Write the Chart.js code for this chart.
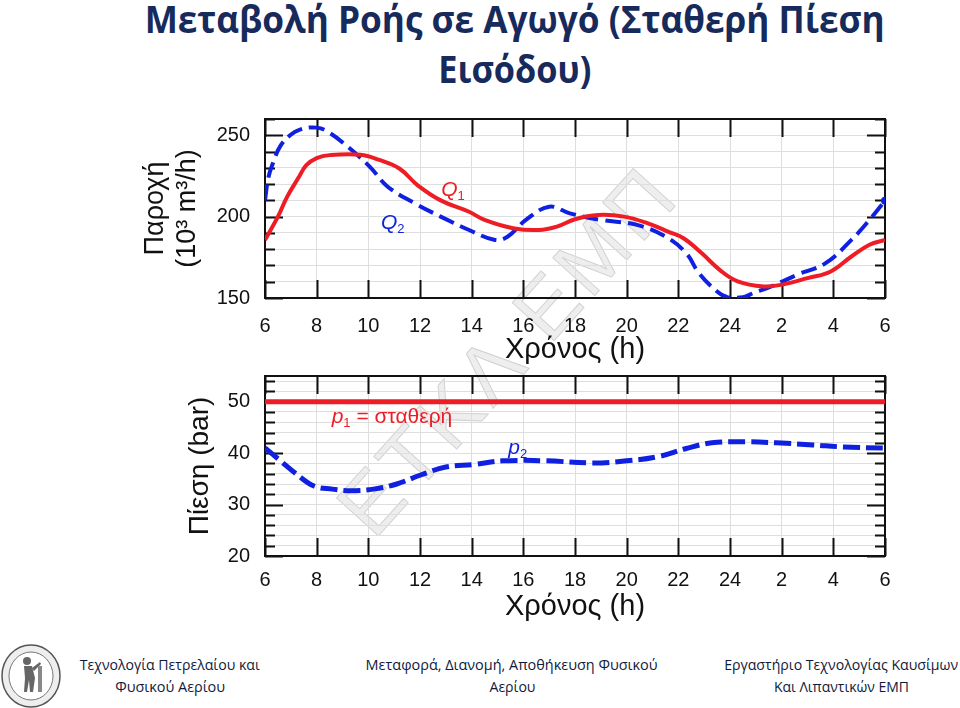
<!DOCTYPE html>
<html lang="el">

<head>
    <meta charset="UTF-8">
    <title>Μεταβολή Ροής σε Αγωγό</title>
    <script src="https://cdn.jsdelivr.net/npm/chart.js@4.4.1/dist/chart.umd.min.js"></script>
    <style>
        html, body { margin: 0; padding: 0; background: #fff; }
        body { width: 960px; height: 708px; position: relative; overflow: hidden; }

        .title {
            position: absolute; left: 100px; top: -7px; width: 830px;
            text-align: center; font-family: "Open Sans", sans-serif; font-weight: 700;
            font-size: 38px; line-height: 50px; color: #172a5c;
        }
        .fit { display: inline-block; white-space: nowrap; transform-origin: center; }

        .watermark {
            position: absolute; left: 508px; top: 350px; z-index: 0;
            transform: translate(-50%, -50%) rotate(-48deg);
            font-family: "Liberation Sans", Arial, sans-serif; font-size: 82px; letter-spacing: 6px;
            color: #eeeeee; -webkit-text-stroke: 1px #d2d2d2; white-space: nowrap;
        }

        .chart-box { position: absolute; left: 0; width: 960px; z-index: 1; }
        #box-flow { top: 100px; height: 270px; }
        #box-pressure { top: 370px; height: 270px; }

        .logo { position: absolute; left: 0; top: 644px; }
        .foot {
            position: absolute; top: 653px; text-align: center;
            font-family: "Open Sans", sans-serif; font-size: 15px; line-height: 22px; color: #101a3c;
        }
    </style>
</head>

<body>
    <div class="title">
        <span class="fit" data-w="740">Μεταβολή Ροής σε Αγωγό (Σταθερή Πίεση</span><br>
        <span class="fit" data-w="153">Εισόδου)</span>
    </div>

    <div class="watermark">ΕΤΚΛ ΕΜΠ</div>

    <div class="chart-box" id="box-flow"><canvas id="chart-flow"></canvas></div>
    <div class="chart-box" id="box-pressure"><canvas id="chart-pressure"></canvas></div>

    <svg class="logo" width="62" height="64" viewBox="0 0 62 64">
        <ellipse cx="31" cy="32" rx="29" ry="31" fill="#eeeeee" stroke="#555" stroke-width="1.5" />
        <ellipse cx="31" cy="32" rx="22" ry="24" fill="#fff" stroke="#777" stroke-width="1" />
        <circle cx="27" cy="17" r="4" fill="#666" />
        <path d="M24 22 L32 22 L35 34 L33 48 L30 48 L29 36 L27 48 L24 48 L25 34 Z" fill="#666" />
        <path d="M32 24 L40 18 L41 20 L34 27 Z" fill="#666" />
        <rect x="38" y="22" width="4" height="26" fill="#888" />
    </svg>
    <div class="foot" style="left: 40px; width: 260px;">
        <span class="fit" data-w="180">Τεχνολογία Πετρελαίου και</span><br>
        <span class="fit" data-w="110">Φυσικού Αερίου</span>
    </div>
    <div class="foot" style="left: 342px; width: 340px;">
        <span class="fit" data-w="292">Μεταφορά, Διανομή, Αποθήκευση Φυσικού</span><br>
        <span class="fit" data-w="46">Αερίου</span>
    </div>
    <div class="foot" style="left: 711px; width: 260px;">
        <span class="fit" data-w="234">Εργαστήριο Τεχνολογίας Καυσίμων</span><br>
        <span class="fit" data-w="135">Και Λιπαντικών ΕΜΠ</span>
    </div>

    <script>
        // x axis: hours from 6 in the morning to 6 the next morning
        const hourTicks = [6, 8, 10, 12, 14, 16, 18, 20, 22, 24, 26, 28, 30];
        const hourLabels = ['6', '8', '10', '12', '14', '16', '18', '20', '22', '24', '2', '4', '6'];

        // flow chart (10^3 m3/h)
        const flowLabelled = [150, 200, 250];
        const q1Hours = [6, 6.5, 6.85, 7.3, 7.6, 8, 8.5, 9.7, 10.4, 11.2, 11.9, 12.8, 13.9, 14.5, 15.6, 16.6, 17.3, 18,
            18.9, 19.9, 20.8, 21.6, 22.2, 22.9, 23.6, 24.3, 25.3, 26, 27, 27.9, 28.7, 29.4, 30];
        const q1Flow = [185.7, 200, 212, 224, 231.6, 236, 237.8, 238, 235, 229.6, 219.4, 210, 203, 198, 192.9, 191.8, 193.9, 198.4,
            201, 200, 196, 190.8, 186.7, 177.6, 167.3, 160.2, 157.1, 158.2, 162.2, 166.3, 175.5, 182.7, 185.7];
        const q2Hours = [6, 6.13, 6.31, 6.58, 6.97, 7.35, 8, 8.5, 9.2, 10.06, 10.75, 11.8, 12.8, 13.9, 14.9, 15.4, 16.1, 17,
            17.8, 19, 20.4, 21.5, 22.3, 22.8, 23.5, 23.9, 24.5, 24.9, 25.6, 26.6, 27.7, 28.7, 29.4, 30];
        const q2Flow = [210, 224, 233, 243, 250, 253.5, 254.7, 251.5, 243, 230.6, 218.4, 208.2, 200, 191.8, 185.7, 187.8, 198, 206.1,
            202, 198, 194.9, 187.8, 177.6, 165.3, 154, 150.5, 150.5, 153, 157.1, 164.3, 171.4, 185.7, 198, 209.8];

        // pressure chart (bar)
        const pressureLabelled = [20, 30, 40, 50];
        const p1Hours = [6, 30];
        const p1Pressure = [50, 50];
        const p2Hours = [6, 6.6, 7.2, 7.9, 8.6, 9.3, 10.2, 11.1, 12, 13, 14.1, 15.2, 16.9, 18.7, 20, 21.2, 22.3, 23.3,
            24.6, 25.8, 27.2, 28.4, 30];
        const p2Pressure = [41, 38.5, 36, 33.6, 33, 32.7, 33, 34, 35.7, 37.3, 37.8, 38.5, 38.5, 38.1, 38.5, 39.3, 40.9, 42,
            42.2, 42, 41.6, 41.2, 41];

        const red = '#ee1c24';
        const blue = '#1020e0';
        const fontFamily = '"Liberation Sans", Arial, sans-serif';

        // curve names, placed in data units
        const flowNames = [
            { symbol: 'Q', sub: '1', rest: '', hour: 12.82, value: 216, color: red },
            { symbol: 'Q', sub: '2', rest: '', hour: 10.49, value: 196, color: blue }
        ];
        const pressureNames = [
            { symbol: 'p', sub: '1', rest: ' = σταθερή', hour: 8.58, value: 47, color: red },
            { symbol: 'p', sub: '2', rest: '', hour: 15.42, value: 40.9, color: blue }
        ];

        function toPoints(xs, ys) {
            return xs.map((x, i) => ({ x: x, y: ys[i] }));
        }

        function range(from, to, step) {
            const out = [];
            for (let v = from; v <= to; v += step) out.push(v);
            return out;
        }

        // black frame with inward tick marks on all four sides
        const framePlugin = {
            id: 'frame',
            beforeDatasetsDraw(chart, args, opts) {
                const { ctx, chartArea: a, scales: { x, y } } = chart;
                ctx.save();
                ctx.strokeStyle = '#111';
                ctx.lineWidth = 2;
                ctx.beginPath();
                x.ticks.forEach(t => {
                    const px = Math.round(x.getPixelForValue(t.value)) + 0.5;
                    ctx.moveTo(px, a.bottom); ctx.lineTo(px, a.bottom - 18);
                    ctx.moveTo(px, a.top); ctx.lineTo(px, a.top + 18);
                });
                y.ticks.forEach(t => {
                    const py = Math.round(y.getPixelForValue(t.value)) + 0.5;
                    const len = opts.major.includes(t.value) ? 18 : 10;
                    ctx.moveTo(a.left, py); ctx.lineTo(a.left + len, py);
                    ctx.moveTo(a.right, py); ctx.lineTo(a.right - len, py);
                });
                ctx.stroke();
                ctx.strokeRect(a.left, a.top, a.width, a.height);
                ctx.restore();
            }
        };

        // Q1, Q2, p1, p2 names with subscripts
        const namesPlugin = {
            id: 'names',
            afterDatasetsDraw(chart, args, opts) {
                const { ctx, scales: { x, y } } = chart;
                ctx.save();
                ctx.textBaseline = 'middle';
                ctx.textAlign = 'left';
                opts.items.forEach(item => {
                    let px = x.getPixelForValue(item.hour);
                    const py = y.getPixelForValue(item.value);
                    ctx.fillStyle = item.color;
                    ctx.font = 'italic 21px ' + fontFamily;
                    ctx.fillText(item.symbol, px, py);
                    px += ctx.measureText(item.symbol).width;
                    ctx.font = '13px ' + fontFamily;
                    ctx.fillText(item.sub, px, py + 6);
                    px += ctx.measureText(item.sub).width;
                    if (item.rest) {
                        ctx.font = '21px ' + fontFamily;
                        ctx.fillText(item.rest, px, py);
                    }
                });
                ctx.restore();
            }
        };

        function hourAxis(height, labelPad, titlePad) {
            return {
                type: 'linear',
                min: 6,
                max: 30,
                afterFit: s => { s.height = height; },
                afterBuildTicks: s => { s.ticks = hourTicks.map(v => ({ value: v })); },
                grid: { color: '#dedede', lineWidth: 1, drawTicks: false },
                border: { display: false },
                ticks: {
                    autoSkip: false, maxRotation: 0, padding: labelPad, color: '#111',
                    font: { family: fontFamily, size: 20 },
                    callback: v => hourLabels[hourTicks.indexOf(v)]
                },
                title: {
                    display: true, text: 'Χρόνος (h)', color: '#111',
                    font: { family: fontFamily, size: 29 },
                    padding: { top: 0, bottom: titlePad }
                }
            };
        }

        function valueAxis(min, max, tickValues, labelled, title, titleSize, titlePad) {
            return {
                min: min,
                max: max,
                // fixed width, and no extra room above/below for the end labels
                afterFit: s => { s.width = 265; s.paddingTop = 0; s.paddingBottom = 0; },
                afterBuildTicks: s => { s.ticks = tickValues.map(v => ({ value: v })); },
                grid: { color: '#dedede', lineWidth: 1, drawTicks: false },
                border: { display: false },
                ticks: {
                    autoSkip: false, padding: 15, color: '#111',
                    font: { family: fontFamily, size: 20 },
                    callback: v => labelled.includes(v) ? String(v) : ''
                },
                title: {
                    display: true, text: title, color: '#111',
                    font: { family: fontFamily, size: titleSize, lineHeight: 1.2 },
                    padding: { top: titlePad, bottom: 0 }
                }
            };
        }

        const flowChart = new Chart(document.getElementById('chart-flow'), {
            type: 'line',
            data: {
                datasets: [{
                    label: 'Q1',
                    data: toPoints(q1Hours, q1Flow),
                    borderColor: red,
                    borderWidth: 4,
                    tension: 0.4,
                    pointRadius: 0
                }, {
                    label: 'Q2',
                    data: toPoints(q2Hours, q2Flow),
                    borderColor: blue,
                    backgroundColor: blue,
                    borderWidth: 4,
                    borderDash: [16, 7],
                    tension: 0.4,
                    pointRadius: ctx => ctx.dataIndex === q2Hours.length - 1 ? 4 : 0,
                    pointBorderWidth: 0
                }]
            },
            options: {
                responsive: true,
                maintainAspectRatio: false,
                animation: false,
                layout: { padding: { top: 19, right: 75, left: 0, bottom: 0 } },
                scales: {
                    x: hourAxis(72, 16, 3),
                    y: valueAxis(150, 260, range(150, 260, 10), flowLabelled, ['Παροχή', '(10³ m³/h)'], 27, 139)
                },
                plugins: {
                    legend: { display: false },
                    tooltip: { enabled: false },
                    frame: { major: flowLabelled },
                    names: { items: flowNames }
                }
            },
            plugins: [framePlugin, namesPlugin]
        });

        const pressureChart = new Chart(document.getElementById('chart-pressure'), {
            type: 'line',
            data: {
                datasets: [{
                    label: 'p1',
                    data: toPoints(p1Hours, p1Pressure),
                    borderColor: red,
                    borderWidth: 5,
                    pointRadius: 0
                }, {
                    label: 'p2',
                    data: toPoints(p2Hours, p2Pressure),
                    borderColor: blue,
                    borderWidth: 5,
                    borderDash: [17, 6],
                    tension: 0.4,
                    pointRadius: 0
                }]
            },
            options: {
                responsive: true,
                maintainAspectRatio: false,
                animation: false,
                layout: { padding: { top: 6, right: 75, left: 0, bottom: 0 } },
                scales: {
                    x: hourAxis(84, 12, 16),
                    y: valueAxis(20, 55, range(20, 54, 2), pressureLabelled, 'Πίεση (bar)', 28, 183)
                },
                plugins: {
                    legend: { display: false },
                    tooltip: { enabled: false },
                    frame: { major: pressureLabelled },
                    names: { items: pressureNames }
                }
            },
            plugins: [framePlugin, namesPlugin]
        });

        // squeeze the html text lines to the widths of the slide text
        document.querySelectorAll('.fit').forEach(el => {
            const w = el.getBoundingClientRect().width;
            el.style.transform = `scaleX(${el.dataset.w / w})`;
        });
    </script>
</body>

</html>
